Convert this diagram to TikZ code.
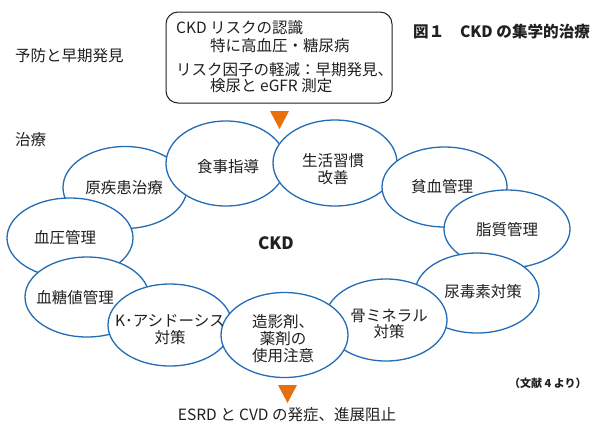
\documentclass[tikz,border=0pt]{standalone}
\usepackage{fontspec}
\setmainfont{Noto Sans CJK JP}
\usetikzlibrary{shapes.geometric}
\definecolor{eblue}{RGB}{36,108,180}
\definecolor{tri}{RGB}{232,112,10}
\definecolor{txt}{RGB}{35,31,32}
\tikzset{
  ell/.style={ellipse, draw=eblue, line width=1.3bp, fill=white, inner sep=0pt,
              minimum width=124bp, minimum height=82bp},
  lab/.style={text=txt, font=\fontsize{15.5bp}{16.8bp}\selectfont, align=center, inner sep=0pt},
  boxline/.style={text=txt, font=\fontsize{15.5bp}{16.5bp}\selectfont, anchor=west, inner sep=0pt},
  arr/.style={fill=tri},
}
\begin{document}
\begin{tikzpicture}[x=1bp,y=-1bp]
\useasboundingbox (0,0) rectangle (600,426);
% top box
\node[draw=txt, line width=1bp, rounded corners=12bp, minimum width=226bp, minimum height=91bp, inner sep=0pt] (box) at (279,57.5) {};
\node[boxline] (b1) at (176,28) {CKD リスクの認識};
\node[boxline] (b2) at (210,45.5) {特に高血圧・糖尿病};
\node[boxline] (b3) at (176,70) {リスク因子の軽減：早期発見、};
\node[boxline] (b4) at (210,86) {検尿と eGFR 測定};
% side labels
\node[boxline] (yobo) at (15,56) {予防と早期発見};
\node[boxline] (chiryo) at (15,140) {治療};
\node[text=txt, font=\fontsize{15.6bp}{16.5bp}\selectfont\bfseries, anchor=west, inner sep=0pt] (title) at (413,32) {図１　CKD の集学的治療};
% ellipses (drawing order = stacking)
\node[ell] (e1) at (125,187.5) {};
\node[ell, minimum width=120bp, minimum height=85bp] (e2) at (226,163.5) {};
\node[ell, minimum width=124bp, minimum height=86bp] (e3) at (335,163) {};
\node[ell, minimum width=125bp, minimum height=80bp] (e4) at (444.5,187) {};
\node[ell, minimum width=126bp, minimum height=78bp] (e5) at (507,229) {};
\node[ell, minimum width=124bp, minimum height=80bp] (e6) at (477,293) {};
\node[ell, minimum width=122bp, minimum height=82bp] (e7) at (386,320) {};
\node[ell, minimum width=126bp, minimum height=80bp] (e8) at (70,238) {};
\node[ell, minimum width=124bp, minimum height=80bp] (e9) at (87,297) {};
\node[ell, minimum width=124bp, minimum height=82bp] (e10) at (170,325) {};
\node[ell, minimum width=127bp, minimum height=85bp] (e11) at (284.5,335) {};
% labels
\node[lab] (t1) at (124,188) {原疾患治療};
\node[lab] (t2) at (228,167) {食事指導};
\node[lab] (t3) at (333,169) {生活習慣\\改善};
\node[lab] (t4) at (442,187) {貧血管理};
\node[lab] (t5) at (507,230) {脂質管理};
\node[lab] (t6) at (483,292) {尿毒素対策};
\node[lab] (t7) at (389,324) {骨ミネラル\\対策};
\node[lab] (t8) at (65,238) {血圧管理};
\node[lab] (t9) at (75,298) {血糖値管理};
\node[lab] (t10) at (170,330) {K･アシドーシス\\対策};
\node[lab] (t11) at (283,338.5) {造影剤、\\薬剤の\\使用注意};
\node[text=txt, font=\fontsize{17bp}{18bp}\selectfont\bfseries, inner sep=0pt] (ckd) at (276,243) {CKD};
% arrows
\coordinate (a1) at (279.5,111);
\coordinate (a2) at (287.5,385);
\fill[arr] (a1) ++(-9.5,0) -- ++(19,0) -- ++(-9.5,18) -- cycle;
\fill[arr] (a2) ++(-9.5,0) -- ++(19,0) -- ++(-9.5,18) -- cycle;
% bottom
\node[lab] (esrd) at (287,415) {ESRD と CVD の発症、進展阻止};
\node[text=txt, font=\fontsize{11bp}{12bp}\selectfont\bfseries, anchor=west, inner sep=0pt] (ref) at (509,383) {（文献 4 より）};
\end{tikzpicture}
\end{document}
